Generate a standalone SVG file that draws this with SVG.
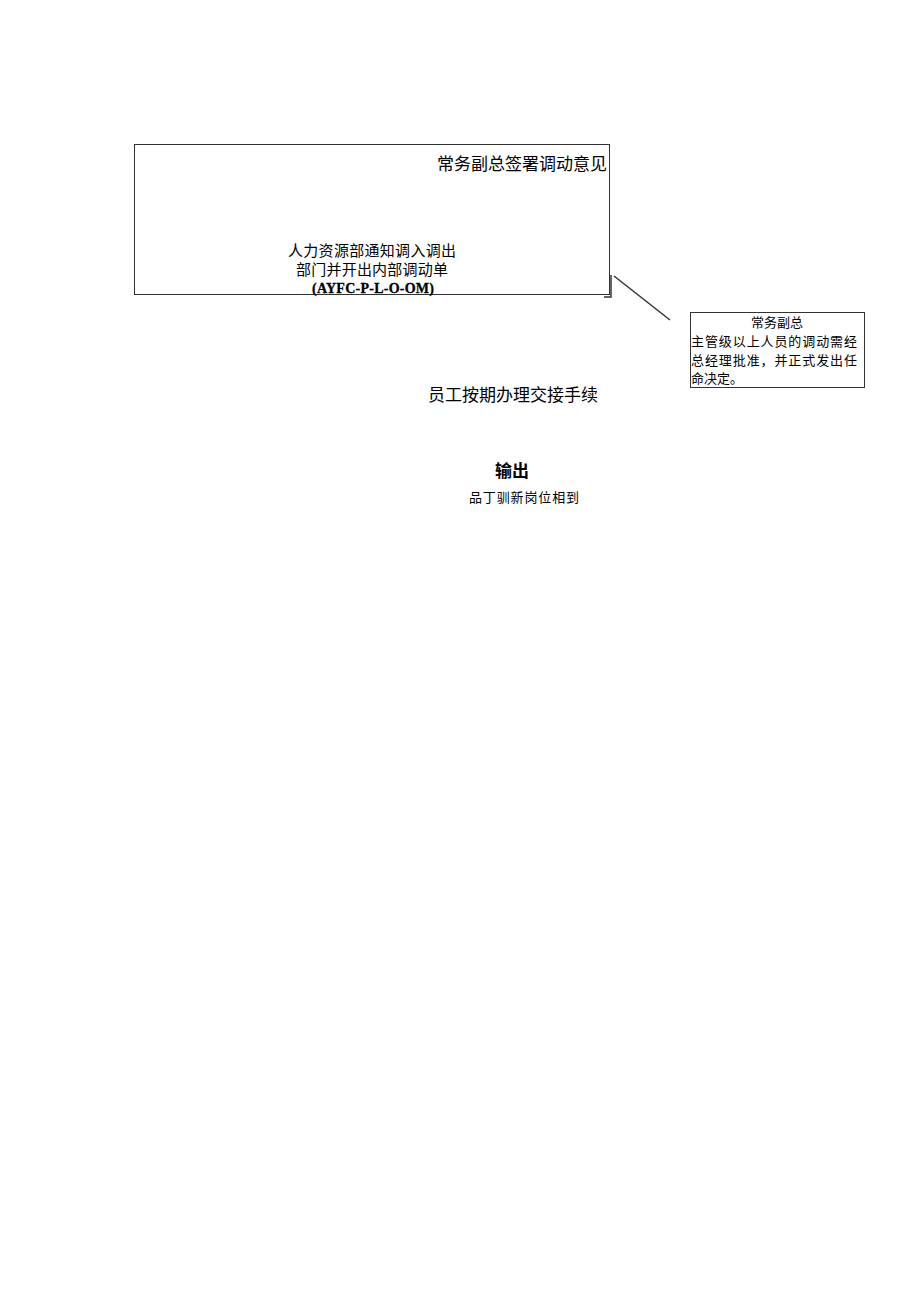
<svg xmlns="http://www.w3.org/2000/svg" width="920" height="1301" viewBox="0 0 920 1301">
<style>
.sans{font-family:"Noto Sans CJK SC","Liberation Sans",sans-serif;fill:#000}
.serif{font-family:"Liberation Serif","Noto Sans CJK SC",serif;fill:#000}
.box{fill:none;stroke:#333;stroke-width:1}
</style>
<rect width="920" height="1301" fill="#fff"/>
<g id="node-main">
<rect class="box" x="134.5" y="144.5" width="475" height="150"/>
<text class="sans" x="607" y="170" font-size="17" text-anchor="end">常务副总签署调动意见</text>
<text class="serif" x="288" y="256" font-size="15" textLength="168">人力资源部通知调入调出</text>
<text class="serif" x="296" y="275" font-size="15" textLength="152">部门并开出内部调动单</text>
<text class="serif" x="312" y="293" font-size="14" font-weight="bold" textLength="122" stroke="#000" stroke-width="0.3">(AYFC-P-L-O-OM)</text>
</g>
<g id="node-note">
<rect class="box" x="690.5" y="312.5" width="174" height="75"/>
<text class="serif" x="777" y="327" font-size="13" text-anchor="middle">常务副总</text>
<text class="serif" x="691" y="346" font-size="13" textLength="166">主管级以上人员的调动需经</text>
<text class="serif" x="691" y="365" font-size="13" textLength="166">总经理批准，并正式发出任</text>
<text class="serif" x="691" y="383" font-size="13">命决定。</text>
</g>
<g id="node-handover">
<text class="sans" x="428" y="401" font-size="17" textLength="170">员工按期办理交接手续</text>
</g>
<g id="node-output">
<text class="sans" x="512" y="477" font-size="17" font-weight="bold" text-anchor="middle">输出</text>
<text class="serif" x="469" y="502" font-size="13" textLength="110">品丁驯新岗位相到</text>
</g>
<g id="connectors" fill="none" stroke="#333" stroke-width="1.5">
<polyline points="604,297 611,297 611,275"/>
<line x1="614" y1="276" x2="670" y2="320"/>
</g>
</svg>
